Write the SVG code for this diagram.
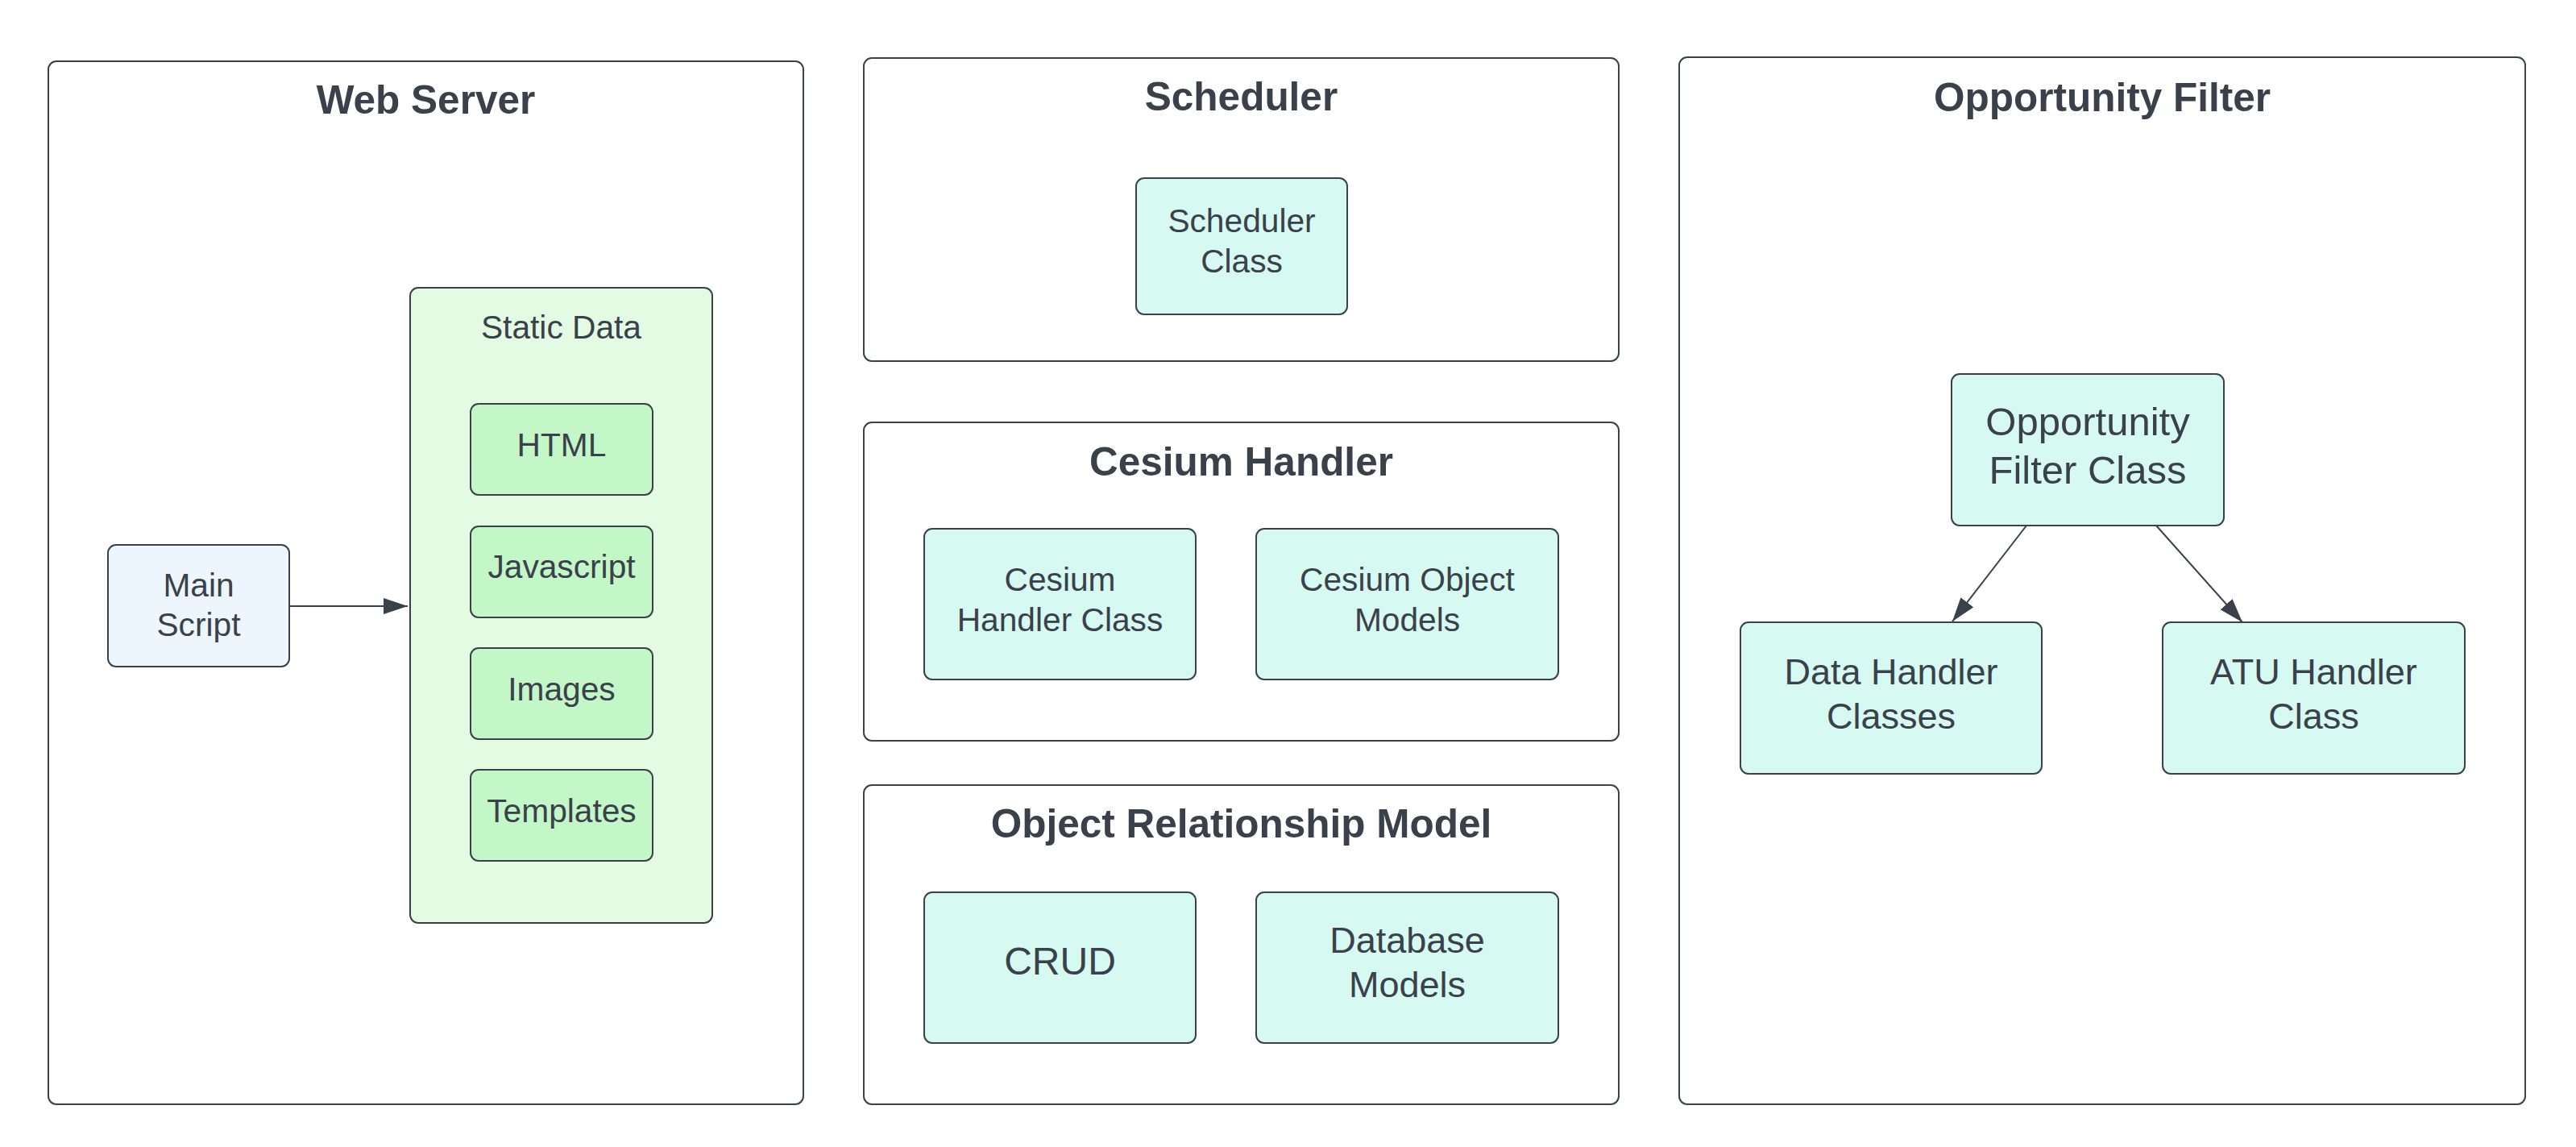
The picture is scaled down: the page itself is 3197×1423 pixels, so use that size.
<svg xmlns="http://www.w3.org/2000/svg" width="3197" height="1423" viewBox="0 0 3197 1423">
<defs>
<style>
.frame{fill:#ffffff;stroke:#3a414a;stroke-width:2}
.teal{fill:#d6f9f2;stroke:#3a414a;stroke-width:2}
.green{fill:#c3f7c8;stroke:#3a414a;stroke-width:2}
.pale{fill:#e3fae3;stroke:#3a414a;stroke-width:2}
.blue{fill:#edf5ff;stroke:#3a414a;stroke-width:2}
text{font-family:"Liberation Sans",Arial,Helvetica,sans-serif;fill:#3a414a;text-anchor:middle}
.title{font-size:49.5px;font-weight:bold}
.t40{font-size:40.7px}
.t45{font-size:45px}
.t48{font-size:48px}
.t49{font-size:49px}
.conn{stroke:#3a414a;stroke-width:2;fill:none}
</style>
<marker id="arrow" markerUnits="userSpaceOnUse" markerWidth="30" markerHeight="20" refX="30" refY="10" orient="auto" viewBox="0 0 30 20">
<path d="M0,0 L30,10 L0,20 Z" fill="#3a414a"/>
</marker>
</defs>
<rect width="3197" height="1423" fill="#ffffff"/>

<g id="web-server">
<rect class="frame" x="60" y="76" width="937" height="1294" rx="10"/>
<text class="title" x="528.5" y="141">Web Server</text>
</g>
<g id="static-data">
<rect class="pale" x="509" y="357" width="375" height="788" rx="10"/>
<text class="t40" x="696.5" y="420">Static Data</text>
</g>
<g id="html">
<rect class="green" x="584" y="501" width="226" height="113" rx="10"/>
<text class="t40" x="697" y="566">HTML</text>
</g>
<g id="javascript">
<rect class="green" x="584" y="653" width="226" height="113" rx="10"/>
<text class="t40" x="697" y="717">Javascript</text>
</g>
<g id="images">
<rect class="green" x="584" y="804" width="226" height="113" rx="10"/>
<text class="t40" x="697" y="869">Images</text>
</g>
<g id="templates">
<rect class="green" x="584" y="955" width="226" height="113" rx="10"/>
<text class="t40" x="697" y="1020">Templates</text>
</g>
<g id="main-script">
<rect class="blue" x="134" y="676" width="225" height="151" rx="10"/>
<text class="t40" x="246.5" y="740">Main</text>
<text class="t40" x="246.5" y="789">Script</text>
</g>

<g id="scheduler">
<rect class="frame" x="1072" y="72" width="937" height="376" rx="10"/>
<text class="title" x="1540.5" y="137">Scheduler</text>
</g>
<g id="scheduler-class">
<rect class="teal" x="1410" y="221" width="262" height="169" rx="10"/>
<text class="t40" x="1541" y="288">Scheduler</text>
<text class="t40" x="1541" y="338">Class</text>
</g>

<g id="cesium-handler">
<rect class="frame" x="1072" y="524" width="937" height="395" rx="10"/>
<text class="title" x="1540.5" y="590">Cesium Handler</text>
</g>
<g id="cesium-handler-class">
<rect class="teal" x="1147" y="656" width="337" height="187" rx="10"/>
<text class="t40" x="1315.5" y="733">Cesium</text>
<text class="t40" x="1315.5" y="783">Handler Class</text>
</g>
<g id="cesium-object-models">
<rect class="teal" x="1559" y="656" width="375" height="187" rx="10"/>
<text class="t40" x="1746.5" y="733">Cesium Object</text>
<text class="t40" x="1746.5" y="783">Models</text>
</g>

<g id="object-relationship-model">
<rect class="frame" x="1072" y="974" width="937" height="396" rx="10"/>
<text class="title" x="1540.5" y="1039">Object Relationship Model</text>
</g>
<g id="crud">
<rect class="teal" x="1147" y="1107" width="337" height="187" rx="10"/>
<text class="t48" x="1315.5" y="1209">CRUD</text>
</g>
<g id="database-models">
<rect class="teal" x="1559" y="1107" width="375" height="187" rx="10"/>
<text class="t45" x="1746.5" y="1182">Database</text>
<text class="t45" x="1746.5" y="1237">Models</text>
</g>

<g id="opportunity-filter">
<rect class="frame" x="2084" y="71" width="1050" height="1299" rx="10"/>
<text class="title" x="2609" y="138">Opportunity Filter</text>
</g>
<g id="opportunity-filter-class">
<rect class="teal" x="2422" y="464" width="338" height="188" rx="10"/>
<text class="t49" x="2591" y="540">Opportunity</text>
<text class="t49" x="2591" y="600">Filter Class</text>
</g>
<g id="data-handler-classes">
<rect class="teal" x="2160" y="772" width="374" height="188" rx="10"/>
<text class="t45" x="2347" y="849">Data Handler</text>
<text class="t45" x="2347" y="904">Classes</text>
</g>
<g id="atu-handler-class">
<rect class="teal" x="2684" y="772" width="375" height="188" rx="10"/>
<text class="t45" x="2871.5" y="849">ATU Handler</text>
<text class="t45" x="2871.5" y="904">Class</text>
</g>

<g id="connectors">
<line class="conn" x1="359" y1="752" x2="506" y2="752" marker-end="url(#arrow)"/>
<line class="conn" x1="2515" y1="652" x2="2423" y2="771" marker-end="url(#arrow)"/>
<line class="conn" x1="2676" y1="652" x2="2783" y2="772" marker-end="url(#arrow)"/>
</g>
</svg>
